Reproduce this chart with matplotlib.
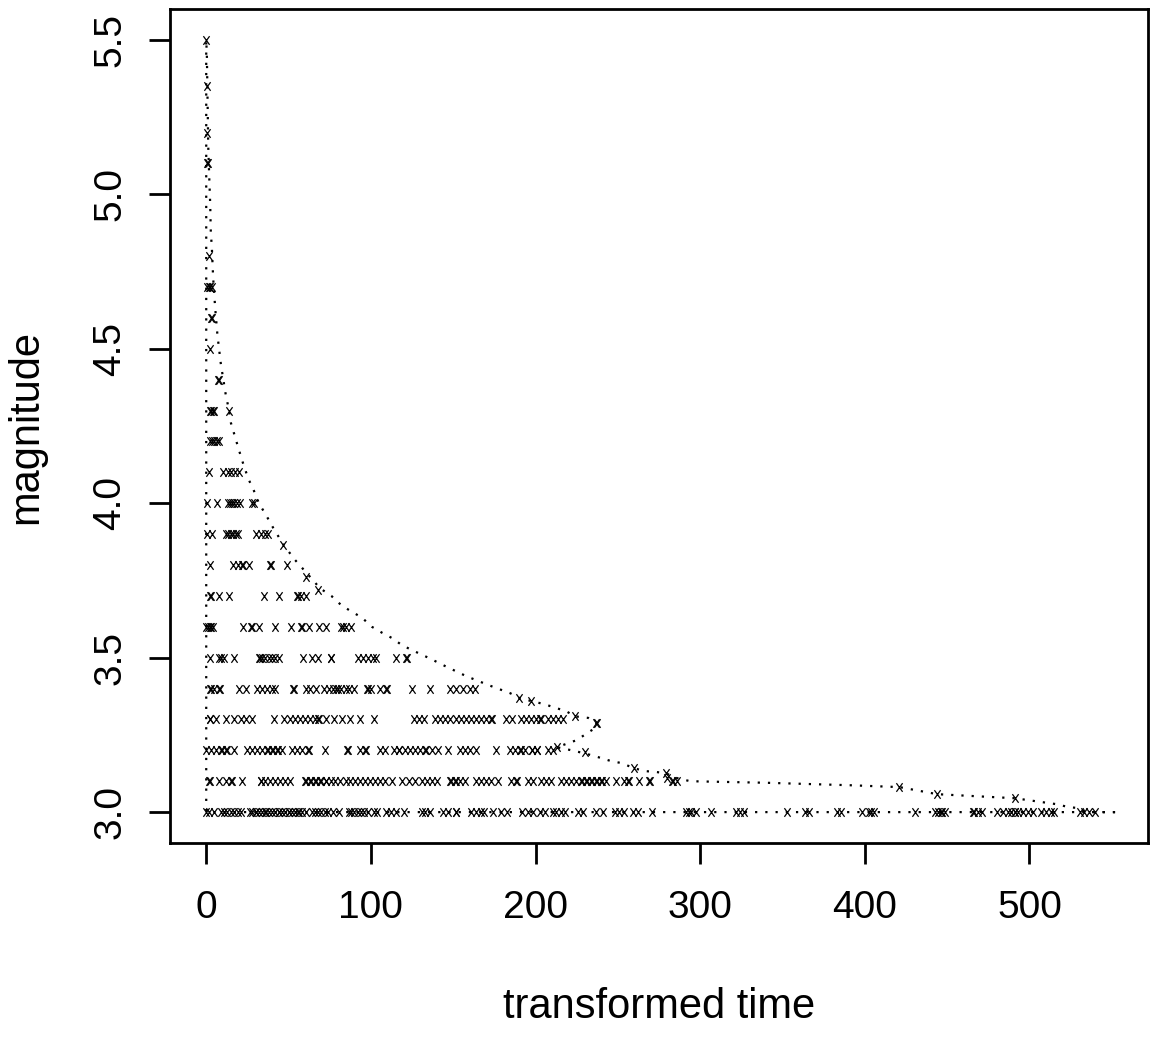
import matplotlib
matplotlib.use("Agg")
import matplotlib.pyplot as plt
from matplotlib.path import Path

plt.rcParams['font.family'] = ['Liberation Sans', 'DejaVu Sans']

# ---- data: transformed times of events, grouped by magnitude ----
t_m550 = [0.0]
t_m535 = [0.3]
t_m520 = [0.3]
t_m510 = [0.4, 0.8]
t_m480 = [1.5]
t_m470 = [0.5, 1.5, 2.5, 3.5]
t_m460 = [3.0, 3.6]
t_m450 = [2.0]
t_m440 = [7.0, 7.5]
t_m430 = [2.0, 3.0, 4.0, 4.8, 14.0]
t_m420 = [2.0, 3.5, 5.0, 6.5, 8.0]
t_m410 = [1.5, 10.0, 13.0, 15.0, 17.5, 20.0]
t_m400 = [0.5, 6.5, 13.0, 14.5, 15.5, 17.0, 18.5, 20.5, 28.0, 29.0]
t_m390 = [0.5, 3.5, 12.0, 13.5, 15.0, 16.5, 18.0, 19.5, 30.0, 33.0, 35.5, 37.5]
t_m386 = [46.6]
t_m380 = [2.4, 16.0, 19.0, 21.5, 22.5, 26.0, 38.5, 39.5, 49.0]
t_m376 = [60.5]
t_m372 = [68.0]
t_m370 = [2.0, 2.6, 8.0, 14.0, 35.0, 44.0, 55.0, 55.6, 57.5, 60.5]
t_m360 = [0.0, 1.0, 2.0, 3.0, 4.0, 22.5, 27.0, 27.6, 32.0, 42.0, 51.5, 57.5,
          58.0, 62.5, 68.5, 73.0, 82.0, 83.0, 85.0, 88.0]
t_m350 = [2.5, 8.0, 9.0, 11.0, 17.0, 32.0, 32.6, 34.0, 36.0, 38.0, 40.0, 42.0,
          44.0, 59.0, 64.0, 68.0, 75.5, 76.0, 92.0, 95.0, 98.0, 101.0, 103.0,
          115.5, 121.5, 122.0]
t_m340 = [2.0, 3.0, 5.0, 8.0, 8.5, 20.0, 24.0, 31.0, 34.0, 37.0, 40.0, 42.0,
          53.0, 53.5, 60.5, 63.0, 66.5, 71.5, 74.5, 77.0, 79.0, 80.0, 82.0, 85.0,
          86.5, 89.6, 97.5, 98.0, 100.0, 105.5, 109.0, 109.5, 125.0, 136.0,
          148.0, 152.0, 156.0, 160.0, 163.0]
t_m337 = [190.0]
t_m336 = [197.0]
t_m331 = [224.0]
t_m329 = [237.0, 237.5]
t_m330 = [2.0, 2.5, 5.8, 11.9, 17.0, 21.0, 24.0, 28.0, 41.0, 47.0, 51.0, 54.0,
          57.0, 60.0, 63.0, 66.0, 68.0, 68.5, 73.0, 77.5, 82.5, 87.6, 93.6,
          101.7, 126.0, 129.0, 132.0, 139.0, 142.0, 145.0, 148.0, 152.0, 155.0,
          158.0, 161.0, 164.0, 167.0, 170.0, 173.0, 173.5, 182.0, 186.0, 191.0,
          194.0, 197.0, 200.0, 203.0, 203.5, 207.6, 210.7, 213.7, 216.7]
t_m321 = [213.3]
t_m3195 = [230.0]
t_m320 = [0.0, 2.8, 5.9, 8.9, 9.4, 11.9, 12.4, 17.0, 25.0, 28.0, 31.0, 34.0,
          37.0, 37.5, 40.0, 40.5, 43.0, 43.5, 46.0, 52.0, 55.0, 58.0, 62.0, 62.5,
          72.4, 85.5, 86.0, 93.6, 96.7, 97.2, 105.7, 108.8, 113.8, 116.8, 117.3,
          120.9, 123.9, 126.9, 130.0, 133.0, 133.5, 137.0, 141.0, 147.0, 154.0,
          157.0, 160.0, 164.0, 176.0, 184.4, 187.5, 190.5, 191.0, 193.5, 197.6,
          198.1, 200.6, 201.1, 207.6, 210.7]
t_m314 = [260.0]
t_m3125 = [279.0]
t_m311 = [280.0]
t_m310 = [1.8, 2.3, 7.9, 11.9, 15.0, 15.5, 22.0, 33.0, 33.5, 36.0, 39.0, 42.0,
          45.0, 48.0, 51.0, 60.0, 60.5, 63.0, 63.5, 66.0, 66.5, 69.0, 69.5, 72.5,
          73.0, 75.5, 78.5, 81.5, 84.6, 87.6, 90.6, 93.6, 96.7, 99.7, 102.7,
          105.7, 108.8, 112.8, 118.8, 122.9, 126.9, 131.0, 134.0, 137.0, 140.0,
          148.0, 148.5, 151.0, 151.5, 154.0, 157.0, 164.0, 167.0, 170.0, 173.0,
          177.0, 185.4, 188.4, 188.9, 195.5, 198.5, 203.6, 206.6, 209.6, 215.7,
          218.7, 221.8, 224.8, 227.8, 228.3, 230.8, 231.3, 233.8, 234.3, 236.9,
          237.4, 239.9, 240.4, 242.9, 249.0, 254.0, 256.0, 256.5, 263.0, 269.0,
          269.5, 283.0, 283.5, 286.0]
t_m308 = [421.0]
t_m306 = [444.0]
t_m3045 = [491.0]
t_m300 = [0.0, 1.8, 4.8, 8.9, 11.0, 12.9, 15.0, 17.0, 19.0, 21.4, 26.4, 28.0,
          30.0, 30.5, 32.0, 34.0, 36.0, 36.5, 38.0, 40.0, 42.0, 44.0, 44.5, 46.0,
          48.0, 50.0, 50.5, 52.0, 54.0, 56.0, 56.5, 58.0, 60.3, 64.0, 66.0, 68.0,
          70.0, 72.0, 74.0, 77.0, 80.5, 86.6, 88.0, 90.0, 92.0, 94.0, 96.0, 98.0,
          101.7, 104.0, 109.0, 112.0, 115.0, 119.9, 131.0, 133.0, 136.0, 144.0,
          147.0, 151.5, 152.0, 161.0, 164.0, 167.0, 169.0, 174.0, 179.0, 182.4,
          191.5, 195.5, 198.5, 202.6, 205.6, 210.7, 212.7, 215.7, 217.7, 225.8,
          228.8, 236.9, 240.9, 248.0, 251.0, 254.0, 259.0, 262.0, 271.0, 291.6,
          293.0, 294.6, 297.6, 306.7, 321.9, 323.9, 326.9, 353.0, 363.4, 366.4,
          383.0, 385.8, 398.3, 402.4, 403.5, 405.4, 430.6, 442.7, 444.7, 446.0,
          446.7, 448.8, 465.9, 466.5, 468.5, 471.0, 480.0, 484.0, 487.0, 489.0,
          491.0, 491.5, 493.0, 496.0, 499.0, 502.0, 507.0, 510.0, 513.0, 515.0,
          531.0, 533.0, 536.0, 539.6]

rows = [
    (5.50, t_m550), (5.35, t_m535), (5.20, t_m520), (5.10, t_m510),
    (4.80, t_m480), (4.70, t_m470), (4.60, t_m460), (4.50, t_m450),
    (4.40, t_m440), (4.30, t_m430), (4.20, t_m420), (4.10, t_m410),
    (4.00, t_m400), (3.90, t_m390), (3.865, t_m386), (3.80, t_m380),
    (3.76, t_m376), (3.72, t_m372), (3.70, t_m370), (3.60, t_m360),
    (3.50, t_m350), (3.40, t_m340), (3.37, t_m337), (3.36, t_m336),
    (3.31, t_m331), (3.29, t_m329), (3.30, t_m330), (3.21, t_m321),
    (3.195, t_m3195), (3.20, t_m320), (3.142, t_m314), (3.126, t_m3125),
    (3.11, t_m311), (3.10, t_m310), (3.081, t_m308), (3.058, t_m306),
    (3.045, t_m3045), (3.00, t_m300),
]

# dotted reference path (envelope)
curve_t = [0.0, 0.4, 0.8, 1.2, 1.8, 2.4, 2.8, 3.4, 4.2, 5.4, 6.8, 8.9, 11.9,
           13.5, 15.0, 17.5, 20.0, 22.5, 25.5, 29.0, 32.0, 36.5, 40.7, 47.0,
           54.0, 60.0, 65.0, 69.0, 76.0, 82.0, 88.0, 94.5, 100.6, 107.0, 113.0,
           119.0, 126.0, 136.0, 145.0, 158.0, 172.0, 184.6, 190.0, 197.0, 205.0,
           212.5, 218.5, 224.0, 232.0, 237.0, 237.0, 231.5, 225.0, 213.0, 222.0,
           230.0, 238.0, 246.0, 252.0, 260.0, 266.0, 273.0, 279.0, 286.0, 294.0,
           340.0, 391.0, 421.0, 444.0, 491.0, 516.0, 524.0, 530.0, 535.0, 552.0]
curve_m = [5.50, 5.45, 5.31, 5.16, 5.06, 4.97, 4.875, 4.83, 4.73, 4.635, 4.545,
           4.45, 4.35, 4.31, 4.26, 4.215, 4.17, 4.127, 4.08, 4.04, 4.00, 3.96,
           3.92, 3.865, 3.816, 3.78, 3.75, 3.725, 3.70, 3.67, 3.65, 3.63, 3.60,
           3.58, 3.563, 3.54, 3.522, 3.497, 3.473, 3.44, 3.41, 3.385, 3.37, 3.36,
           3.35, 3.337, 3.327, 3.31, 3.305, 3.29, 3.275, 3.256, 3.233, 3.21, 3.20,
           3.19, 3.178, 3.165, 3.159, 3.142, 3.133, 3.13, 3.126, 3.11, 3.10,
           3.095, 3.087, 3.081, 3.058, 3.045, 3.026, 3.016, 3.013, 3.00, 3.00]
base_t = [552.0, 0.0, 0.0]
base_m = [3.00, 3.00, 5.50]

x_ticks = [0, 100, 200, 300, 400, 500]
y_ticks = [3.0, 3.5, 4.0, 4.5, 5.0, 5.5]
y_ticklabels = ["3.0", "3.5", "4.0", "4.5", "5.0", "5.5"]

# ---- figure ----
W, H = 1155, 1053
fig = plt.figure(figsize=(W / 100, H / 100), dpi=100)
ax = fig.add_axes([170 / W, 210 / H, 978 / W, 834 / H])

xmark = Path([(-0.36, -0.5), (0.36, 0.5), (-0.36, 0.5), (0.36, -0.5)],
             [Path.MOVETO, Path.LINETO, Path.MOVETO, Path.LINETO])

dot_style = dict(color="black", lw=1.6, linestyle=(0, (1.0, 3.6)),
                 dash_capstyle="butt", solid_capstyle="butt")
ax.plot(base_t + curve_t, base_m + curve_m, **dot_style)

for mag, ts in rows:
    ax.plot(ts, [mag] * len(ts), linestyle="none", marker=xmark,
            markersize=6.2, markeredgewidth=0.9, color="black")

ax.set_xlim(-22, 572)
ax.set_ylim(2.9, 5.6)
ax.set_xticks(x_ticks)
ax.set_xticklabels([str(v) for v in x_ticks])
ax.set_yticks(y_ticks)
ax.set_yticklabels(y_ticklabels, rotation=90, va="center")

for s in ax.spines.values():
    s.set_linewidth(2.0)
ax.tick_params(axis="both", direction="out", length=15, width=2.0,
               labelsize=28)
ax.tick_params(axis="x", pad=19)
ax.tick_params(axis="y", pad=15)

fig.text(659 / W, 1 - 1007 / H, "transformed time", ha="center", va="center",
         fontsize=30)
fig.text(26 / W, 1 - 427 / H, "magnitude", ha="center", va="center",
         rotation=90, fontsize=30)

fig.savefig("out.png", dpi=100)
